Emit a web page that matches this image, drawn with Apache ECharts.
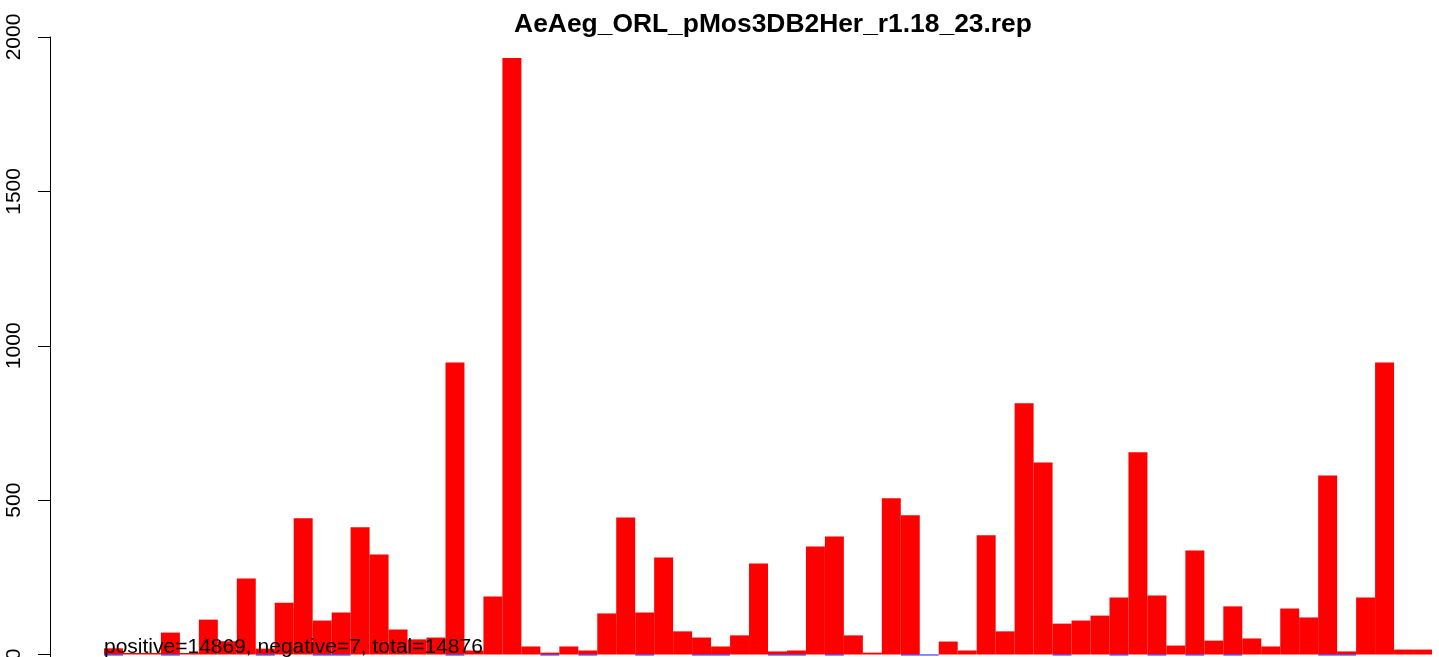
<!DOCTYPE html>
<html>
<head>
<meta charset="utf-8">
<script src="https://cdn.jsdelivr.net/npm/echarts@6/dist/echarts.min.js"></script>
<style>
  html, body { margin: 0; padding: 0; background: #fff; }
  #chart { width: 1439px; height: 657px; }
</style>
</head>
<body>
<div id="chart"></div>
<script>
var chartTitle = "AeAeg_ORL_pMos3DB2Her_r1.18_23.rep";
var noteText = "positive=14869, negative=7, total=14876";

// positive counts per bin (red)
var posValues = [20, 5, 5, 71, 5, 113, 43, 246, 19, 168,
                 441, 110, 136, 412, 324, 81, 49, 55, 946, 13,
                 188, 1932, 26, 6, 26, 13, 133, 444, 136, 314,
                 75, 55, 26, 62, 295, 10, 13, 350, 382, 62,
                 6, 506, 451, 0, 42, 13, 386, 75, 814, 622,
                 100, 110, 126, 185, 655, 191, 29, 337, 45, 156,
                 52, 26, 149, 120, 580, 10, 185, 946, 16, 16];

// negative counts per bin (blue), tiny
var negValues = [-3, 0, 0, -3, 0, 0, 0, 0, -3, 0,
                 0, -3, -3, 0, 0, 0, 0, 0, -3, 0,
                 0, 0, 0, -3, 0, -3, 0, 0, -3, 0,
                 0, -3, -3, 0, 0, -3, -3, 0, -3, 0,
                 0, 0, -3, -3, 0, 0, 0, 0, 0, 0,
                 -3, 0, 0, -3, 0, -3, 0, -3, 0, -3,
                 0, 0, 0, 0, -3, -3, 0, 0, 0, 0];

var yTicks = [0, 500, 1000, 1500, 2000];

var bins = [];
for (var i = 0; i < posValues.length; i++) bins.push(String(i + 1));

var myChart = echarts.init(document.getElementById('chart'));
var option = {
    animation: false,
    title: {
        text: chartTitle,
        left: 768,
        textAlign: 'center',
        top: 7,
        textStyle: {
            fontFamily: 'Liberation Sans',
            fontWeight: 'bold',
            fontSize: 26.4,
            color: '#000'
        }
    },
    grid: {
        left: 104,
        right: 7,
        top: 37,
        height: 620.6,
        outerBoundsMode: 'none',
        containLabel: false
    },
    xAxis: {
        type: 'category',
        data: bins,
        show: false
    },
    yAxis: {
        type: 'value',
        min: -10,
        max: 2000,
        offset: 54,
        splitLine: { show: false },
        axisLine: { show: true, lineStyle: { color: '#000', width: 1 } },
        axisTick: {
            show: true,
            length: 12,
            customValues: yTicks,
            lineStyle: { color: '#000' }
        },
        axisLabel: {
            customValues: yTicks,
            rotate: 90,
            margin: 25,
            formatter: function (v) { return String(v); },
            fontFamily: 'Liberation Sans',
            fontSize: 21,
            color: '#000'
        }
    },
    series: [
        {
            name: 'positive',
            type: 'bar',
            data: posValues,
            barCategoryGap: '0%',
            barGap: '-100%',
            itemStyle: { color: '#ff0000' }
        },
        {
            name: 'negative',
            type: 'bar',
            data: negValues,
            barCategoryGap: '0%',
            barGap: '-100%',
            itemStyle: { color: '#0000ff' }
        }
    ],
    graphic: [
        {
            type: 'text',
            left: 104,
            top: 637,
            z: 100,
            style: {
                text: noteText,
                fontFamily: 'Liberation Sans',
                fontSize: 21,
                fill: '#000'
            }
        }
    ]
};
myChart.setOption(option);
</script>
</body>
</html>
